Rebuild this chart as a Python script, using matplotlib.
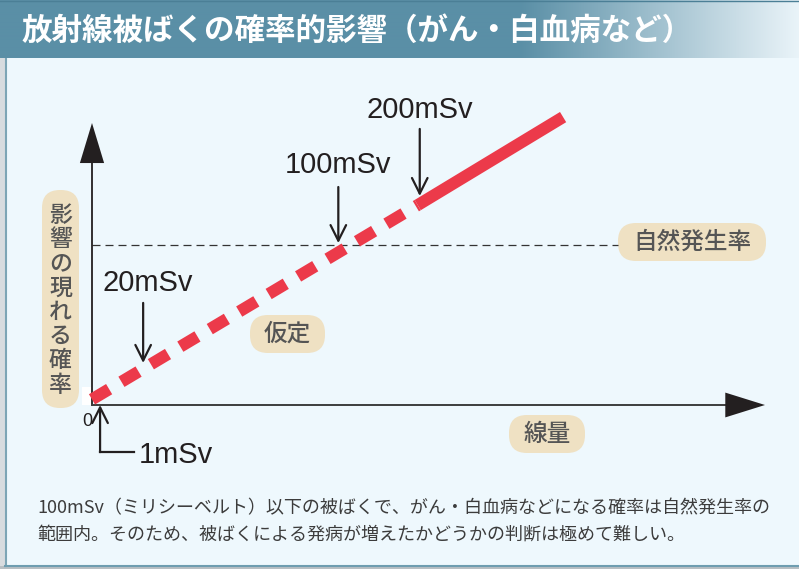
import matplotlib
matplotlib.use("Agg")
import matplotlib.pyplot as plt
import numpy as np
from matplotlib.patches import FancyBboxPatch, Rectangle, Polygon
from matplotlib.colors import to_rgb

# ---------------- data (schematic units: 線量 axis 0-100, 確率 axis 0-100) -------------
dose_labels = ["1mSv", "20mSv", "100mSv", "200mSv"]
dose_pos = [1.2, 7.6, 36.6, 48.7]
arrow_tip = [0.0, 14.9, 57.4, 74.1]
arrow_tail = [-16.7, 36.2, 77.3, 97.9]
label_x = [7.0, 8.3, 36.6, 48.7]
label_y = [-17.8, 43.3, 85.1, 104.6]

assumed_x = [0.0, 48.4]      # 仮定 (dashed)
assumed_y = [2.0, 70.9]
observed_x = [48.4, 70.0]    # solid part
observed_y = [70.9, 102.1]

natural_rate = 56.6
natural_rate_end = 78.2

title = "放射線被ばくの確率的影響（がん・白血病など）"
ylabel_text = "影響の現れる確率"
xlabel_text = "線量"
assume_text = "仮定"
natural_text = "自然発生率"
note_lines = ["100mSv（ミリシーベルト）以下の被ばくで、がん・白血病などになる確率は自然発生率の",
              "範囲内。そのため、被ばくによる発病が増えたかどうかの判断は極めて難しい。"]

# ---------------- style ----------------
W, H = 799, 569
CJK = ["Noto Sans CJK JP", "DejaVu Sans"]
LAT = ["Liberation Sans", "Noto Sans CJK JP"]
DARK = "#231f20"
RED = "#ec3a4a"
BEIGE = "#efe1c3"
PILL_TXT = "#555555"
BG = "#eef8fd"

fig = plt.figure(figsize=(W / 100, H / 100), dpi=100)

bg = fig.add_axes([0, 0, 1, 1])
bg.set_xlim(0, W)
bg.set_ylim(H, 0)
bg.axis("off")

bg.add_patch(Rectangle((0, 0), W, H, fc=BG, ec="none", zorder=0))
# left shadow + border
bg.add_patch(Rectangle((0, 58), 5, H, fc="#d8dcdf", ec="none", zorder=1))
bg.plot([6, 6], [58, 566], color="#7da5b5", lw=1.5, zorder=2)
bg.add_patch(Rectangle((0, 566), W, 4, fc="#b8bfc3", ec="none", zorder=1))
bg.plot([5, W], [565.5, 565.5], color="#6e9db0", lw=1.5, zorder=2)

# title bar gradient
c0 = np.array(to_rgb("#5a8fa6"))
c1 = np.array(to_rgb("#eaf4f9"))
xs = np.arange(W)
t = np.clip((xs - 520) / (W - 520), 0, 1)
grad = (c0[None, :] * (1 - t[:, None]) + c1[None, :] * t[:, None])[None, :, :]
bg.imshow(grad, extent=(0, W, 58, 0), aspect="auto", zorder=3, interpolation="bilinear")
bg.plot([0, W], [0.5, 0.5], color="#4b7f96", lw=1, zorder=4)
bg.text(22, 31, title, color="white", fontsize=22, fontweight="bold", family=CJK,
        ha="left", va="center", zorder=5)

# pills
def pill(x0, y0, x1, y1, r):
    bg.add_patch(FancyBboxPatch((x0 + r, y0 + r), (x1 - x0) - 2 * r, (y1 - y0) - 2 * r,
                                boxstyle=f"round,pad={r}", fc=BEIGE, ec="none", zorder=3))

pill(42, 190, 79, 408, 18)
for i, ch in enumerate(ylabel_text):
    bg.text(60.5, 215 + i * 24.3, ch, fontsize=16.5, color=PILL_TXT, family=CJK,
            fontweight="medium", ha="center", va="center", zorder=4)

pill(250, 315, 325, 353, 18)
bg.text(287.5, 334, assume_text, fontsize=17, color=PILL_TXT, family=CJK,
        fontweight="medium", ha="center", va="center", zorder=4)
pill(618, 223, 766, 261, 18)
bg.text(692, 242, natural_text, fontsize=17, color=PILL_TXT, family=CJK,
        fontweight="medium", ha="center", va="center", zorder=4)
pill(509, 415, 585, 453, 18)
bg.text(547, 434, xlabel_text, fontsize=17, color=PILL_TXT, family=CJK,
        fontweight="medium", ha="center", va="center", zorder=4)

# white patch at origin
bg.add_patch(Rectangle((82, 387), 10, 18, fc="white", ec="none", zorder=3))
bg.text(87, 421, "0", fontsize=13, color=DARK, family=LAT, ha="center", va="center", zorder=4)

# note text
for i, line in enumerate(note_lines):
    bg.text(37, 508 + i * 27, line, fontsize=13, color="#3c3c3c", family=CJK,
            ha="left", va="center", zorder=4)

# ---------------- chart axes ----------------
ax = fig.add_axes([92 / W, (H - 405) / H, 673 / W, 282 / H])
ax.set_xlim(0, 100)
ax.set_ylim(0, 100)
ax.axis("off")
ax.patch.set_alpha(0)

# axes with arrowheads
ax.plot([0, 0], [0, 85.8], color=DARK, lw=1.3, clip_on=False, zorder=2)
ax.add_patch(Polygon([[-1.8, 85.8], [1.8, 85.8], [0, 100]], closed=True, fc=DARK, ec="none",
                     clip_on=False, zorder=2))
ax.plot([0, 94.1], [0, 0], color="#3d3d3d", lw=1.4, clip_on=False, zorder=2)
ax.add_patch(Polygon([[94.1, 4.4], [94.1, -4.4], [100, 0]], closed=True, fc=DARK, ec="none",
                     clip_on=False, zorder=2))

# natural rate level
ax.plot([0, natural_rate_end], [natural_rate, natural_rate], color="#333333", lw=0.9,
        dashes=(6.4, 4.0), clip_on=False, zorder=1)

# red line
lw_red = 8.6
ax.plot(assumed_x, assumed_y, color=RED, lw=lw_red, solid_capstyle="butt",
        dash_capstyle="butt", dashes=(1.67, 1.2), clip_on=False, zorder=3)
ax.plot(observed_x, observed_y, color=RED, lw=lw_red, solid_capstyle="butt",
        clip_on=False, zorder=3)

# dose arrows
for i, lab in enumerate(dose_labels):
    ax.annotate("", xy=(dose_pos[i], arrow_tip[i]), xytext=(dose_pos[i], arrow_tail[i]),
                arrowprops=dict(arrowstyle="->", lw=1.6, color=DARK, mutation_scale=28,
                                shrinkA=0, shrinkB=0),
                annotation_clip=False, zorder=4)
    if i == 0:
        ax.plot([dose_pos[i], label_x[i] - 0.7], [arrow_tail[i], arrow_tail[i]], color=DARK,
                lw=1.6, clip_on=False, zorder=4)
        ax.text(label_x[i], label_y[i], lab, fontsize=21, color=DARK, family=LAT,
                ha="left", va="center", zorder=4)
    else:
        ax.text(label_x[i], label_y[i], lab, fontsize=21, color=DARK, family=LAT,
                ha="center", va="center", zorder=4)

fig.savefig("out.png", dpi=100)
